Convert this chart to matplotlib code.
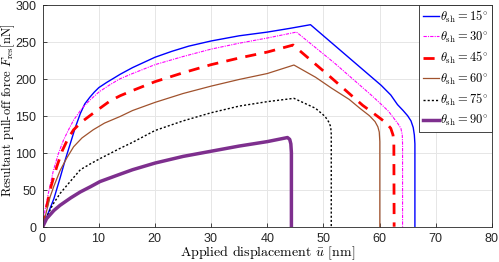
import matplotlib
matplotlib.use("Agg")
import matplotlib.pyplot as plt

plt.rcParams['mathtext.fontset'] = 'cm'
plt.rcParams['axes.formatter.use_mathtext'] = True

angles = [15, 30, 45, 60, 75, 90]

x15 = [0, 0.7, 2, 3.1, 4, 4.9, 5.8, 6.7, 7.5, 8.4, 9.2, 10, 11.4, 12.5, 13.8, 16, 18, 20, 23, 26, 30, 35, 40, 44, 47.7,
       54, 60.3, 62, 63.2, 64.2, 65, 65.6, 66.0, 66.2, 66.3, 66.3]
y15 = [0, 13, 38, 66, 90, 112, 134, 153, 166, 175, 182, 188, 195, 200, 206, 215, 222, 229, 237, 244, 251, 258, 263, 268, 273,
       232, 191, 178, 165, 157, 150, 143, 134, 124, 112, 0]

x30 = [0, 0.4, 1, 1.9, 2.8, 3.7, 4.6, 5.5, 7, 8.4, 10, 12, 13.8, 16, 20, 25, 30, 35, 40, 45.2,
       52, 58.5, 60.5, 61.6, 62.6, 63.3, 63.8, 64.05, 64.1, 64.1]
y30 = [0, 22, 45, 76, 99, 117, 131, 144, 160, 171, 182, 192, 200, 207, 219, 230, 240, 248, 255, 263,
       221, 178, 164, 156, 146, 139, 133, 124, 112, 0]

x45 = [0, 0.7, 1.5, 2.5, 3.5, 4.5, 5.5, 7, 8.4, 10, 12, 13.8, 16, 20, 25, 30, 35, 40, 44.6,
       51, 57, 58.8, 60.2, 61.2, 62.0, 62.4, 62.55, 62.6]
y45 = [0, 27, 55, 81, 103, 119, 131, 142, 150, 159, 170, 177, 184, 196, 208, 219, 228, 236, 245.5,
       204, 164, 154, 146, 140, 133, 124, 112, 0]

x60 = [0, 1.3, 2, 3.1, 4.3, 5.5, 7, 9, 11, 13.8, 16, 20, 25, 30, 35, 40, 44.75,
       48.6, 51.5, 54.6, 56.5, 58.2, 59.2, 59.7, 59.95, 60.05, 60.05]
y60 = [0, 40, 55, 76, 93, 108, 120, 131, 140, 149, 157, 168, 180, 190, 199, 207, 218.5,
       202, 187, 172, 160, 150, 142, 135, 128, 115, 0]

x75 = [0, 0.7, 1.8, 3.1, 5, 6.7, 8.5, 10.2, 12, 13.8, 16, 20, 25, 30, 35, 40, 44.75,
       48.6, 50.3, 51.0, 51.3, 51.4, 51.4]
y75 = [0, 13, 30, 45, 62, 77, 85, 92, 99, 106, 114, 130, 143, 154, 163, 169, 173.5,
       160, 149, 141, 135, 125, 0]

x90 = [0, 0.7, 2, 3.1, 5, 6.7, 8.5, 10.2, 12, 13.8, 16, 20, 25, 30, 35, 40, 43.6, 44.0, 44.2, 44.3, 44.3]
y90 = [0, 11, 22, 29, 39, 47, 54, 61, 66, 71, 77, 86, 95, 102, 109, 115, 120.5, 118, 112, 100, 0]

xs = [x15, x30, x45, x60, x75, x90]
ys = [y15, y30, y45, y60, y75, y90]
colors = ['#0000ff', '#ff00ff', '#ff0000', '#a0522d', '#000000', '#7e2f8e']
styles = ['-', (0, (3, 1, 1, 1)), (0, (4, 3)), '-', (0, (1.5, 1.5)), '-']
widths = [1.0, 0.8, 2.0, 0.9, 1.0, 2.5]

fig = plt.figure(figsize=(4.99, 2.62), dpi=100)
ax = fig.add_axes([0.0856, 0.1347, 0.9000, 0.8473])

for a, x, y, c, ls, lw in zip(angles, xs, ys, colors, styles, widths):
    ax.plot(x, y, color=c, linestyle=ls, linewidth=lw, solid_joinstyle='round',
            label=r'$\theta_{\mathrm{sh}} = %d^{\circ}$' % a)

ax.set_xlim(0, 80)
ax.set_ylim(0, 300)
ax.set_xticks(range(0, 81, 10))
ax.set_yticks(range(0, 301, 50))
ax.grid(True, color='#e6e6e6', linewidth=0.7)
ax.set_axisbelow(True)
ax.tick_params(direction='in', length=3, labelsize=9, colors='#262626', width=0.6)
for lab in ax.get_xticklabels() + ax.get_yticklabels():
    lab.set_fontfamily('Liberation Sans')
for s in ax.spines.values():
    s.set_color('#262626')
    s.set_linewidth(0.6)

ax.set_xlabel(r'Applied displacement $\bar{u}$ [nm]', fontfamily='cmr10', fontsize=10, labelpad=0)
ax.set_ylabel(r'Resultant pull-off force $F_{\mathrm{res}}$[nN]', fontfamily='cmr10', fontsize=9)
ax.yaxis.set_label_coords(-0.057, 0.525)

leg = ax.legend(loc='upper right', fontsize=9, handlelength=1.25, handletextpad=0.1,
                borderpad=0.3, labelspacing=0.42, borderaxespad=0.0,
                fancybox=False, framealpha=1.0, edgecolor='#262626')
leg.get_frame().set_linewidth(0.6)

fig.savefig('out.png', dpi=100)
